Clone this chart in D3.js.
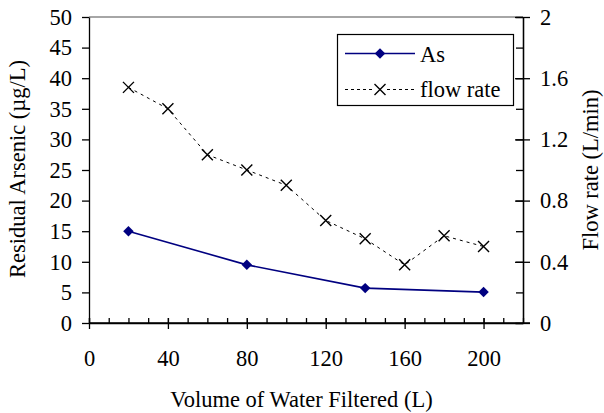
<!DOCTYPE html>
<html>
<head>
<meta charset="utf-8">
<script src="https://cdn.jsdelivr.net/npm/d3@7"></script>
<style>
  body { margin: 0; background: #fff; }
  text { font-family: "Liberation Serif", "Times New Roman", serif; fill: #000; font-size: 22.5px; }
  .axis text { font-size: 22.5px; font-family: "Liberation Serif", "Times New Roman", serif; }
  .axis path, .axis line { stroke: #000; stroke-width: 1.3; }
</style>
</head>
<body>
<svg id="chart"></svg>
<script>
var width = 604, height = 413;

// data
var asVolume = [20, 80, 140, 200];
var asValues = [15.0, 9.5, 5.7, 5.05];
var flowVolume = [20, 40, 60, 80, 100, 120, 140, 160, 180, 200];
var flowValues = [1.54, 1.40, 1.10, 1.00, 0.90, 0.67, 0.55, 0.38, 0.57, 0.50];

var xTicks = [0, 40, 80, 120, 160, 200];
var yLeftTicks = [0, 5, 10, 15, 20, 25, 30, 35, 40, 45, 50];
var yRightTicks = [0, 0.4, 0.8, 1.2, 1.6, 2];

var plot = { left: 89, right: 523, top: 17, bottom: 323 };

var svg = d3.select("#chart")
  .attr("width", width)
  .attr("height", height);

var x = d3.scaleLinear().domain([0, 220]).range([plot.left, plot.right]);
var yL = d3.scaleLinear().domain([0, 50]).range([plot.bottom, plot.top]);
var yR = d3.scaleLinear().domain([0, 2]).range([plot.bottom, plot.top]);

// top border
svg.append("line")
  .attr("x1", plot.left).attr("x2", plot.right)
  .attr("y1", plot.top).attr("y2", plot.top)
  .attr("stroke", "#888").attr("stroke-width", 1.3);

// x axis: minor ticks inside, major crossing
svg.append("g")
  .attr("class", "axis")
  .attr("transform", "translate(0," + plot.bottom + ")")
  .call(d3.axisTop(x).tickValues(d3.range(0, 221, 10)).tickSize(5).tickSizeOuter(0).tickFormat(""));

var xAxis = svg.append("g")
  .attr("class", "axis")
  .attr("transform", "translate(0," + plot.bottom + ")")
  .call(d3.axisBottom(x).tickValues(xTicks).tickSize(6).tickSizeOuter(0).tickPadding(21));
xAxis.selectAll(".tick line").attr("y1", -5);
xAxis.select(".domain").attr("d", "M" + plot.left + ",0H" + (plot.right + 7));

// left axis
svg.append("g")
  .attr("class", "axis")
  .attr("transform", "translate(" + plot.left + ",0)")
  .call(d3.axisLeft(yL).tickValues(yLeftTicks).tickSize(7).tickSizeOuter(0).tickPadding(10));

// right axis: minor inside, major crossing
svg.append("g")
  .attr("class", "axis")
  .attr("transform", "translate(" + plot.right + ",0)")
  .call(d3.axisLeft(yR).tickValues(d3.range(0, 2.01, 0.2)).tickSize(7).tickSizeOuter(0).tickFormat(""));

var rightAxis = svg.append("g")
  .attr("class", "axis")
  .attr("transform", "translate(" + plot.right + ",0)")
  .call(d3.axisRight(yR).tickValues(yRightTicks).tickSize(7).tickSizeOuter(0).tickPadding(10)
    .tickFormat(function (d) { return d; }));
rightAxis.selectAll(".tick line").attr("x1", -8);

// flow rate series
var flowLine = d3.line()
  .x(function (d, i) { return x(flowVolume[i]); })
  .y(function (d) { return yR(d); });

svg.append("path")
  .datum(flowValues)
  .attr("fill", "none")
  .attr("stroke", "#000")
  .attr("stroke-width", 1)
  .attr("stroke-dasharray", "3,4")
  .attr("d", flowLine);

function cross(g, cx, cy) {
  var s = 5.5;
  g.append("path")
    .attr("d", "M" + (cx - s) + "," + (cy - s) + "L" + (cx + s) + "," + (cy + s) +
               "M" + (cx - s) + "," + (cy + s) + "L" + (cx + s) + "," + (cy - s))
    .attr("stroke", "#000")
    .attr("stroke-width", 1.4)
    .attr("fill", "none");
}

var crosses = svg.append("g");
flowValues.forEach(function (d, i) { cross(crosses, x(flowVolume[i]), yR(d)); });

// arsenic series
var asLine = d3.line()
  .x(function (d, i) { return x(asVolume[i]); })
  .y(function (d) { return yL(d); });

svg.append("path")
  .datum(asValues)
  .attr("fill", "none")
  .attr("stroke", "#000080")
  .attr("stroke-width", 1.6)
  .attr("d", asLine);

var diamond = d3.symbol().type(d3.symbolDiamond2).size(70);

svg.selectAll(".as-pt")
  .data(asValues)
  .enter().append("path")
  .attr("class", "as-pt")
  .attr("transform", function (d, i) { return "translate(" + x(asVolume[i]) + "," + yL(d) + ")"; })
  .attr("d", diamond)
  .attr("fill", "#000080");

// legend
var legend = svg.append("g");
legend.append("rect")
  .attr("x", 337.5).attr("y", 34.5)
  .attr("width", 176).attr("height", 71)
  .attr("fill", "#fff").attr("stroke", "#000").attr("stroke-width", 1.2);

legend.append("line")
  .attr("x1", 345).attr("x2", 415).attr("y1", 53.5).attr("y2", 53.5)
  .attr("stroke", "#000080").attr("stroke-width", 1.6);
legend.append("path")
  .attr("transform", "translate(380,53.5)")
  .attr("d", diamond)
  .attr("fill", "#000080");
legend.append("text")
  .attr("x", 420).attr("y", 61.5)
  .text("As");

legend.append("line")
  .attr("x1", 345).attr("x2", 415).attr("y1", 89.5).attr("y2", 89.5)
  .attr("stroke", "#000").attr("stroke-width", 1).attr("stroke-dasharray", "3,3");
legend.append("rect")
  .attr("x", 373).attr("y", 82).attr("width", 14).attr("height", 15).attr("fill", "#fff");
cross(legend, 380, 89.5);
legend.append("text")
  .attr("x", 420).attr("y", 96.5)
  .text("flow rate");

// axis titles
svg.append("text")
  .attr("x", 301.5).attr("y", 406.5)
  .attr("text-anchor", "middle")
  .text("Volume of Water Filtered (L)");

svg.append("text")
  .attr("transform", "translate(25,169)rotate(-90)")
  .attr("text-anchor", "middle")
  .text("Residual Arsenic (µg/L)");

svg.append("text")
  .attr("transform", "translate(598,170)rotate(-90)")
  .attr("text-anchor", "middle")
  .text("Flow rate (L/min)");
</script>
</body>
</html>
